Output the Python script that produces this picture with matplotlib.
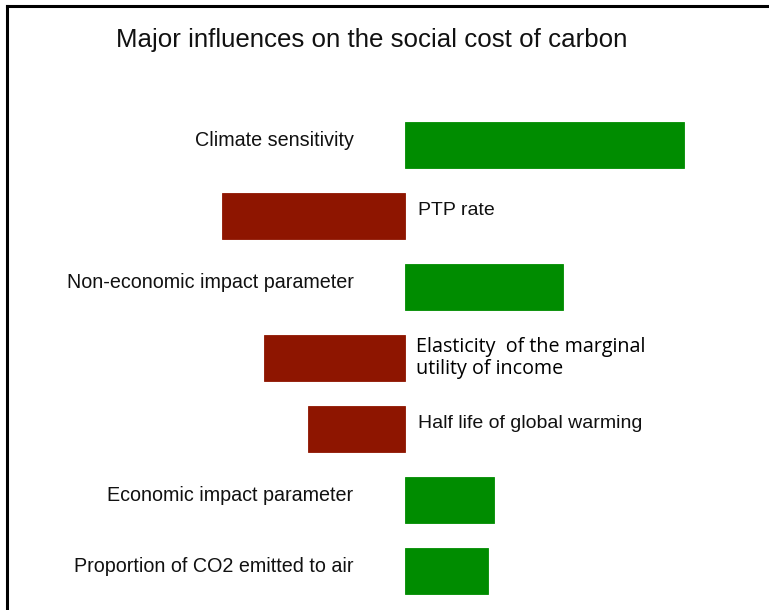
import matplotlib
matplotlib.use("Agg")
import matplotlib.pyplot as plt
from matplotlib.lines import Line2D
import numpy as np

# bar data (relative effect on the social cost of carbon, climate sensitivity = 100)
labels = [
    "Climate sensitivity",
    "PTP rate",
    "Non-economic impact parameter",
    "Elasticity  of the marginal\nutility of income",
    "Half life of global warming",
    "Economic impact parameter",
    "Proportion of CO2 emitted to air",
]
values = [100, -65.5, 56.6, -50.5, -34.8, 31.9, 29.7]

GREEN = "#008C00"
RED = "#8E1500"
SANS = ["Liberation Sans", "DejaVu Sans"]

fig = plt.figure(figsize=(7.69, 6.10), dpi=100)
fig.patch.set_facecolor("white")

# axes covers the whole figure; zero line sits at x = 405 px
ax = fig.add_axes([0, 0, 1, 1])
scale = 2.79  # px per unit
ax.set_xlim(-405 / scale, (769 - 405) / scale)
row0, step = 145, 71
ax.set_ylim((610 - row0) / step, -row0 / step)
ax.axis("off")

y = np.arange(len(values))
colors = [GREEN if v > 0 else RED for v in values]
ax.barh(y, values, height=0.65, color=colors, edgecolor=colors, linewidth=0.6)

for yi, v, lab in zip(y, values, labels):
    if v > 0:
        ax.annotate(lab, (0, yi), xytext=(-37, 3), textcoords="offset points",
                    ha="right", va="center", fontsize=14.2, family=SANS, color="#111111")
    elif "\n" in lab:
        ax.annotate(lab, (0, yi), xytext=(8, 0), textcoords="offset points",
                    ha="left", va="center", fontsize=14.2, family=["Open Sans", "DejaVu Sans"],
                    color="black", linespacing=1.15)
    else:
        ax.annotate(lab, (0, yi), xytext=(9, 4), textcoords="offset points",
                    ha="left", va="center", fontsize=14, family=SANS, color="#111111")

fig.text(372 / 769, 1 - 40 / 610, "Major influences on the social cost of carbon",
         ha="center", va="center", fontsize=18.6, family=SANS, color="#111111")

# frame lines (top and left)
fig.add_artist(Line2D([7 / 769, 1], [1 - 6 / 610, 1 - 6 / 610], color="black", linewidth=2.2,
                      transform=fig.transFigure))
fig.add_artist(Line2D([7 / 769, 7 / 769], [0, 1 - 6 / 610], color="black", linewidth=2.2,
                      transform=fig.transFigure))

fig.savefig("out.png", dpi=100)
